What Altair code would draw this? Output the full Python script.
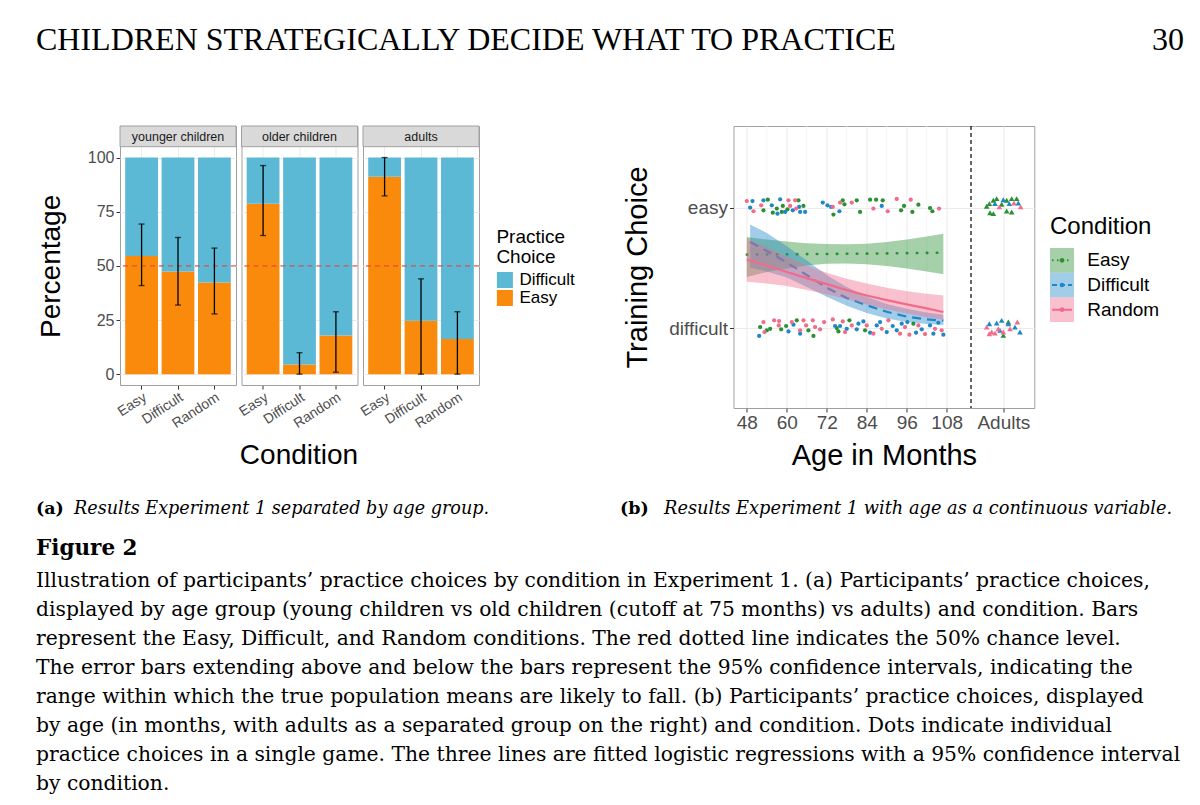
import altair as alt
import pandas as pd

# ------------------------------------------------------------------ text
header_title = "CHILDREN STRATEGICALLY DECIDE WHAT TO PRACTICE"
page_number = "30"
sub_a_tag = "(a)"
sub_a_text = "Results Experiment 1 separated by age group."
sub_b_tag = "(b)"
sub_b_text = "Results Experiment 1 with age as a continuous variable."
figure_label = "Figure 2"
caption_lines = [
    "Illustration of participants\u2019 practice choices by condition in Experiment 1. (a) Participants\u2019 practice choices,",
    "displayed by age group (young children vs old children (cutoff at 75 months) vs adults) and condition. Bars",
    "represent the Easy, Difficult, and Random conditions. The red dotted line indicates the 50% chance level.",
    "The error bars extending above and below the bars represent the 95% confidence intervals, indicating the",
    "range within which the true population means are likely to fall. (b) Participants\u2019 practice choices, displayed",
    "by age (in months, with adults as a separated group on the right) and condition. Dots indicate individual",
    "practice choices in a single game. The three lines are fitted logistic regressions with a 95% confidence interval",
    "by condition.",
]

# ------------------------------------------------------------------ panel (a) data
groups = ["younger children", "older children", "adults"]
conditions = ["Easy", "Difficult", "Random"]
choices = ["Difficult", "Easy"]
easy_pct = [[54.6, 47.4, 42.3], [78.7, 4.5, 17.9], [91.1, 24.7, 16.2]]
ci_low = [[40.9, 31.9, 27.8], [64.0, 0.0, 0.9], [82.3, 0.0, 0.0]]
ci_high = [[69.3, 63.1, 58.2], [96.3, 9.9, 28.8], [100.0, 44.0, 28.8]]

# ------------------------------------------------------------------ panel (b) data
age_ticks = [48, 60, 72, 84, 96, 108, 125]
age_minor = [54, 66, 78, 90, 102, 116.5]
adult_split = 115.3

fit_easy_x = [48, 54, 60, 66, 72, 78, 84, 90, 96, 102, 107]
fit_easy = [0.610, 0.611, 0.613, 0.614, 0.615, 0.617, 0.618, 0.620, 0.622, 0.624, 0.626]
fit_easy_lo = [0.424, 0.465, 0.495, 0.520, 0.535, 0.537, 0.530, 0.515, 0.495, 0.470, 0.446]
fit_easy_hi = [0.756, 0.735, 0.718, 0.705, 0.697, 0.695, 0.700, 0.715, 0.735, 0.760, 0.784]

fit_diff_x = [49, 54, 60, 66, 72, 78, 84, 90, 96, 102, 107]
fit_diff = [0.714, 0.640, 0.545, 0.440, 0.335, 0.250, 0.189, 0.135, 0.095, 0.072, 0.062]
fit_diff_lo = [0.500, 0.470, 0.420, 0.340, 0.260, 0.185, 0.125, 0.080, 0.050, 0.033, 0.025]
fit_diff_hi = [0.860, 0.790, 0.680, 0.560, 0.440, 0.340, 0.260, 0.200, 0.160, 0.130, 0.110]

fit_rand_x = [48, 54, 60, 66, 72, 78, 84, 90, 96, 102, 107]
fit_rand = [0.568, 0.520, 0.465, 0.415, 0.365, 0.315, 0.270, 0.232, 0.197, 0.163, 0.133]
fit_rand_lo = [0.385, 0.370, 0.350, 0.315, 0.280, 0.240, 0.195, 0.155, 0.120, 0.090, 0.068]
fit_rand_hi = [0.745, 0.670, 0.590, 0.520, 0.460, 0.410, 0.370, 0.335, 0.305, 0.285, 0.270]

# individual choices (y: 1 = easy, 0 = difficult, with jitter) -- children
child_easy_x = [54.3, 53.0, 55.8, 57.0, 58.8, 60.2, 63.5, 65.0, 58.5, 74.0, 76.8, 77.3, 81.0, 82.0,
                85.0, 86.8, 88.8, 94.3, 95.2, 97.7, 99.5, 103.0, 103.7,
                52.0, 54.0, 55.0, 58.3, 59.8, 63.0, 66.5, 68.0, 75.0, 75.5, 78.8, 83.5, 98.0]
child_easy_y = [1.066, 0.978, 0.958, 0.992, 1.014, 0.986, 1.061, 1.014, 0.964, 0.942, 1.061, 1.028, 1.061, 0.964,
                1.066, 1.066, 1.061, 0.978, 1.014, 0.964, 1.025, 0.997, 0.970,
                0.008, -0.019, -0.006, -0.011, 0.017, 0.064, -0.019, -0.066, 0.000, -0.028, 0.064, -0.019, 0.036]
child_diff_x = [49.7, 49.0, 53.0, 55.5, 58.0, 57.2, 61.8, 63.7, 64.0, 65.5, 59.5, 70.8, 72.2, 73.3, 75.8, 88.5,
                51.7, 60.5, 62.0, 64.0, 74.5, 76.0, 78.0, 81.0, 81.5, 83.0, 85.0, 87.0, 88.0, 90.0, 91.8, 93.0,
                94.5, 96.2, 98.8, 100.5, 103.0, 104.0, 105.5, 107.0]
child_diff_y = [1.055, 1.000, 1.061, 1.019, 1.069, 0.950, 0.978, 1.006, 0.964, 0.964, 0.964, 1.042, 1.019, 1.006, 0.970, 1.014,
                -0.066, -0.028, 0.028, -0.047, 0.017, 0.017, -0.006, -0.011, 0.036, 0.055, -0.039, 0.022, 0.050, -0.033, 0.017, -0.019,
                0.036, 0.050, -0.039, -0.011, 0.022, -0.047, 0.044, -0.055]
child_rand_x = [48.0, 50.0, 52.3, 60.5, 61.0, 62.5, 62.8, 73.8, 76.0, 79.5, 86.0, 90.3, 93.0, 97.2, 105.7,
                53.0, 53.3, 56.2, 57.7, 57.6, 61.5, 64.0, 65.0, 65.8, 67.8, 68.5, 70.0, 71.2, 73.8, 76.8, 77.5,
                79.5, 84.0, 86.0, 88.5, 90.5, 94.0, 95.5, 96.8, 99.5, 101.5, 104.5, 106.5]
child_rand_y = [1.055, 0.970, 1.019, 1.061, 1.014, 1.061, 0.992, 1.006, 1.042, 1.042, 0.992, 0.970, 1.072, 1.066, 0.992,
                0.050, -0.033, 0.064, 0.058, 0.022, 0.050, -0.019, 0.064, 0.022, 0.064, 0.008, -0.011, 0.050, 0.072, 0.055, -0.033,
                0.022, 0.022, -0.047, -0.006, 0.064, -0.047, 0.008, -0.055, 0.022, -0.050, -0.006, -0.019]
# adults
adult_easy_x = [120.0, 120.8, 122.0, 123.0, 124.5, 126.0, 127.5, 129.0, 121.0, 122.0, 126.0, 127.5, 125.0, 126.5]
adult_easy_y = [1.011, 1.033, 1.061, 1.075, 1.028, 1.061, 1.075, 1.075, 0.958, 0.950, 0.972, 0.964, -0.061, 0.050]
adult_diff_x = [122.5, 125.0, 126.8, 129.5, 120.8, 123.0, 124.5, 126.5, 128.5, 130.0, 124.0]
adult_diff_y = [1.033, 1.066, 1.033, 1.039, 0.036, 0.042, 0.064, 0.036, 0.008, -0.033, -0.019]
adult_rand_x = [123.8, 128.2, 130.2, 120.0, 121.5, 123.5, 125.0, 127.0, 129.2, 122.5, 120.8]
adult_rand_y = [1.006, 1.039, 1.006, 0.008, -0.033, -0.006, -0.033, -0.006, 0.050, -0.042, -0.047]

# ------------------------------------------------------------------ styles
FONT = "Liberation Sans"
SERIF = "Liberation Serif"
BODY = "DejaVu Serif"
AXIS_TXT = "#4D4D4D"
GRID = "#EBEBEB"
ORANGE = "#F98A0B"
SKY = "#5BB9D6"
GREEN = "#2A9032"
BLUE = "#1F87C8"
PINK = "#F06C8A"
COND_COLORS = [GREEN, BLUE, PINK]
NOSTROKE = alt.ViewBackground(stroke="transparent")
LEFT = -84          # page text starts this far left of the first panel
TEXT_W = 1064       # width of the page-text blocks

# ------------------------------------------------------------------ panel (a)
rows = []
for gi, g in enumerate(groups):
    for ci, c in enumerate(conditions):
        e = easy_pct[gi][ci]
        for ch, val, rank in (("Easy", e, 0), ("Difficult", 100 - e, 1)):
            rows.append(dict(group=g, condition=c, choice=ch, pct=val, rank=rank,
                             lo=ci_low[gi][ci], hi=ci_high[gi][ci]))
df_a = pd.DataFrame(rows)

PW, PH, STRIP = 116, 259, 20.7
ysc_a = alt.Scale(domain=[-5, 105], range=[PH, STRIP], nice=False, zero=False)
xsc_a = alt.Scale(domain=conditions, paddingInner=0.1, paddingOuter=0.143)
xax_a = alt.Axis(title=None, labelAngle=-33, labelAlign="right", labelBaseline="top",
                 labelFontSize=14, labelColor=AXIS_TXT, tickColor="#333333", tickSize=4,
                 domain=False, grid=True, gridColor=GRID, labelPadding=1)
yax_a = alt.Axis(title="Percentage", values=[0, 25, 50, 75, 100], labelFontSize=16,
                 labelColor=AXIS_TXT, tickColor="#333333", tickSize=4, domain=False,
                 grid=True, gridColor=GRID, titleFontSize=28, titleFontWeight="normal",
                 titleColor="black", titlePadding=22, titleY=(STRIP + PH) / 2, labelPadding=2)
X_A = alt.X("condition:N", sort=conditions, scale=xsc_a, axis=xax_a)

one_row = (alt.datum.choice == "Easy") & (alt.datum.condition == "Easy")

bars = alt.Chart().mark_bar().encode(
    x=X_A,
    y=alt.Y("pct:Q", stack="zero", scale=ysc_a, axis=yax_a),
    color=alt.Color("choice:N", scale=alt.Scale(domain=choices, range=[SKY, ORANGE]),
                    legend=alt.Legend(title=["Practice", "Choice"], orient="none",
                                      legendX=376.4, legendY=101.5,
                                      titleFontSize=19, titleFontWeight="normal", titleColor="black",
                                      titleLineHeight=20, titlePadding=5, labelFontSize=17,
                                      labelColor="black", symbolType="square", symbolSize=256,
                                      symbolStrokeWidth=0, symbolOpacity=1, rowPadding=0,
                                      labelOffset=6, padding=0)),
    order=alt.Order("rank:Q"),
)
chance = alt.Chart().transform_filter(one_row).mark_rule(
    color="#E8413A", strokeDash=[5, 4], strokeWidth=1.3, opacity=0.85
).encode(y=alt.datum(50))
err = alt.Chart().transform_filter(alt.datum.choice == "Easy").mark_rule(
    color="black", strokeWidth=1.3).encode(
    x=X_A, y=alt.Y("lo:Q", scale=ysc_a, axis=yax_a), y2="hi:Q")
cap_lo = alt.Chart().transform_filter(alt.datum.choice == "Easy").mark_tick(
    color="black", thickness=1.3, size=6).encode(x=X_A, y=alt.Y("lo:Q", scale=ysc_a, axis=yax_a))
cap_hi = alt.Chart().transform_filter(alt.datum.choice == "Easy").mark_tick(
    color="black", thickness=1.3, size=6).encode(x=X_A, y=alt.Y("hi:Q", scale=ysc_a, axis=yax_a))
strip = alt.Chart().transform_filter(one_row).mark_rect(
    fill="#D9D9D9", stroke="#A0A0A0", strokeWidth=1).encode(
    x=alt.value(0), x2=alt.value(PW), y=alt.value(0), y2=alt.value(STRIP))
strip_text = alt.Chart().transform_filter(one_row).mark_text(
    fontSize=12.5, color="#1A1A1A", baseline="middle").encode(
    text="group:N", x=alt.value(PW / 2), y=alt.value(STRIP / 2 + 0.5))

chart_a = alt.layer(bars, chance, err, cap_lo, cap_hi, strip, strip_text, data=df_a).properties(
    width=PW, height=PH
).facet(
    column=alt.Column("group:N", sort=groups,
                      header=alt.Header(title="Condition", titleOrient="bottom", labels=False,
                                        titleFontSize=28, titleFont=FONT, titleFontWeight="normal",
                                        titleColor="black", titlePadding=1)),
    spacing=5.5,
    bounds="flush",
)

# ------------------------------------------------------------------ panel (b)
pts = []
for cond, xs, ys in (("Easy", child_easy_x, child_easy_y), ("Difficult", child_diff_x, child_diff_y),
                     ("Random", child_rand_x, child_rand_y)):
    pts += [dict(age=a, choice=v, condition=cond, grp="child") for a, v in zip(xs, ys)]
for cond, xs, ys in (("Easy", adult_easy_x, adult_easy_y), ("Difficult", adult_diff_x, adult_diff_y),
                     ("Random", adult_rand_x, adult_rand_y)):
    pts += [dict(age=a, choice=v, condition=cond, grp="adult") for a, v in zip(xs, ys)]
df_pts = pd.DataFrame(pts)

fits = []
for cond, xs, f, lo, hi in (("Easy", fit_easy_x, fit_easy, fit_easy_lo, fit_easy_hi),
                            ("Difficult", fit_diff_x, fit_diff, fit_diff_lo, fit_diff_hi),
                            ("Random", fit_rand_x, fit_rand, fit_rand_lo, fit_rand_hi)):
    fits += [dict(age=a, fit=v, lo=l, hi=h, condition=cond) for a, v, l, h in zip(xs, f, lo, hi)]
df_fit = pd.DataFrame(fits)

BW, BH = 300.8, 282
xsc_b = alt.Scale(domain=[44, 134.3], nice=False, zero=False)
ysc_b = alt.Scale(domain=[-0.664, 1.678], nice=False, zero=False)
xax_b = alt.Axis(title="Age in Months", values=age_ticks,
                 labelExpr="datum.value == 125 ? 'Adults' : datum.label",
                 labelFontSize=19, labelColor=AXIS_TXT, titleFontSize=29, titleFontWeight="normal",
                 titleColor="black", titlePadding=9, tickSize=4, tickColor="#333333", domain=False,
                 grid=True, gridColor=GRID, labelPadding=1, labelFlush=False, labelOverlap=False)
yax_b = alt.Axis(title="Training Choice", values=[0, 1],
                 labelExpr="datum.value == 1 ? 'easy' : 'difficult'",
                 labelFontSize=19, labelColor=AXIS_TXT, titleFontSize=29, titleFontWeight="normal",
                 titleColor="black", titlePadding=16, tickSize=4, tickColor="#333333", domain=False,
                 grid=True, gridColor=GRID, labelPadding=2)
X_B = lambda f: alt.X(f, scale=xsc_b, axis=xax_b)
Y_B = lambda f: alt.Y(f, scale=ysc_b, axis=yax_b)
cond_color = alt.Color("condition:N", scale=alt.Scale(domain=conditions, range=COND_COLORS), legend=None)

minor = alt.Chart(pd.DataFrame({"age": age_minor})).mark_rule(color="#F2F2F2", strokeWidth=0.8).encode(
    x=X_B("age:Q"))
split = alt.Chart(pd.DataFrame({"age": [adult_split]})).mark_rule(
    color="black", strokeDash=[4, 3], strokeWidth=1.2).encode(x=X_B("age:Q"))
dots = alt.Chart(df_pts).transform_filter(alt.datum.grp == "child").mark_circle(
    size=18, opacity=1).encode(x=X_B("age:Q"), y=Y_B("choice:Q"), color=cond_color)
tris = alt.Chart(df_pts).transform_filter(alt.datum.grp == "adult").mark_point(
    shape="triangle-up", filled=True, size=32, opacity=1).encode(
    x=X_B("age:Q"), y=Y_B("choice:Q"), color=cond_color)

line_style = {
    "Easy": dict(strokeDash=[0.5, 9.5], strokeCap="round", strokeWidth=2.6),
    "Difficult": dict(strokeDash=[9, 6], strokeWidth=2.2),
    "Random": dict(strokeWidth=2.2),
}
smooth_layers = []
for cond, col in zip(conditions, COND_COLORS):
    base = alt.Chart(df_fit).transform_filter(alt.datum.condition == cond)
    smooth_layers.append(base.mark_area(color=col, opacity=0.42).encode(
        x=X_B("age:Q"), y=Y_B("lo:Q"), y2="hi:Q"))
    smooth_layers.append(base.mark_line(color=col, **line_style[cond]).encode(
        x=X_B("age:Q"), y=Y_B("fit:Q")))

chart_b = alt.layer(minor, split, dots, tris, *smooth_layers).properties(width=BW, height=BH)

# legend of panel (b), drawn through its own band scale
df_leg = pd.DataFrame({"condition": conditions})
KEY_Y = alt.Y("condition:N", sort=conditions,
              scale=alt.Scale(domain=conditions, range=[122, 196], paddingInner=0, paddingOuter=0),
              axis=None)
leg_keys = alt.Chart(df_leg).mark_rect(opacity=0.42).encode(
    y=KEY_Y, x=alt.value(0), x2=alt.value(24), color=cond_color)
leg_lines = alt.Chart(df_leg).mark_rule(strokeWidth=2).encode(
    y=KEY_Y, x=alt.value(2), x2=alt.value(22), color=cond_color,
    strokeDash=alt.StrokeDash("condition:N", scale=alt.Scale(domain=conditions,
                                                             range=[[1.5, 3.5], [5, 3], [1, 0]]), legend=None))
leg_pts = alt.Chart(df_leg).mark_circle(size=22, opacity=1).encode(
    y=KEY_Y, x=alt.value(12), color=cond_color)
leg_text = alt.Chart(df_leg).mark_text(align="left", baseline="middle", fontSize=19, color="black").encode(
    y=KEY_Y, x=alt.value(37.3), text="condition:N")
leg_title = alt.Chart(pd.DataFrame({"t": ["Condition"]})).mark_text(
    align="left", baseline="alphabetic", fontSize=24, color="black").encode(
    x=alt.value(0), y=alt.value(107.6), text="t:N")
# the legend block is made as tall as the whole row, so the row ends at a known height
legend_b = alt.layer(leg_keys, leg_lines, leg_pts, leg_text, leg_title).properties(
    width=112, height=364, view=NOSTROKE)

# ------------------------------------------------------------------ page text
hdr = alt.Chart(pd.DataFrame({"t": [header_title], "n": [page_number]}))
header = alt.layer(
    hdr.mark_text(font=SERIF, fontSize=32, align="left", baseline="alphabetic", color="black").encode(
        text="t:N", x=alt.value(LEFT), y=alt.value(41)),
    hdr.mark_text(font=SERIF, fontSize=32, align="right", baseline="alphabetic", color="black").encode(
        text="n:N", x=alt.value(TEXT_W), y=alt.value(41)),
).properties(width=TEXT_W, height=114, view=NOSTROKE)

cap_df = pd.DataFrame({"a": [sub_a_tag], "at": [sub_a_text], "b": [sub_b_tag], "bt": [sub_b_text],
                       "f": [figure_label]})
capc = alt.Chart(cap_df)
SUB_Y = 22
FIG_Y = 63
CAP_Y = 95
bottom = alt.layer(
    capc.mark_text(font=BODY, fontSize=17.5, fontWeight="bold", align="left", baseline="alphabetic",
                   color="black").encode(text="a:N", x=alt.value(LEFT), y=alt.value(SUB_Y)),
    capc.mark_text(font=BODY, fontSize=17.6, fontStyle="italic", align="left", baseline="alphabetic",
                   color="black").encode(text="at:N", x=alt.value(LEFT + 38), y=alt.value(SUB_Y)),
    capc.mark_text(font=BODY, fontSize=17.5, fontWeight="bold", align="left", baseline="alphabetic",
                   color="black").encode(text="b:N", x=alt.value(LEFT + 584), y=alt.value(SUB_Y)),
    capc.mark_text(font=BODY, fontSize=17.8, fontStyle="italic", align="left", baseline="alphabetic",
                   color="black").encode(text="bt:N", x=alt.value(LEFT + 628), y=alt.value(SUB_Y)),
    capc.mark_text(font=BODY, fontSize=21.5, fontWeight="bold", align="left", baseline="alphabetic",
                   color="black").encode(text="f:N", x=alt.value(LEFT), y=alt.value(FIG_Y)),
    capc.mark_text(font=BODY, fontSize=20.3, align="left", baseline="alphabetic", lineHeight=29,
                   color="black").encode(text=alt.value(caption_lines), x=alt.value(LEFT), y=alt.value(CAP_Y)),
).properties(width=TEXT_W, height=304, view=NOSTROKE)

row = alt.hconcat(chart_a, alt.hconcat(chart_b, legend_b, spacing=13.5), spacing=46.5).resolve_scale(
    color="independent")

chart = alt.vconcat(header, row, bottom, spacing=0).properties(
    padding={"left": 27, "top": 0, "right": 0, "bottom": 0}
).resolve_scale(color="independent").configure(font=FONT).configure_view(stroke="#A0A0A0", strokeWidth=1)

chart.save("out.html", embed_options={"renderer": "svg", "actions": False})
